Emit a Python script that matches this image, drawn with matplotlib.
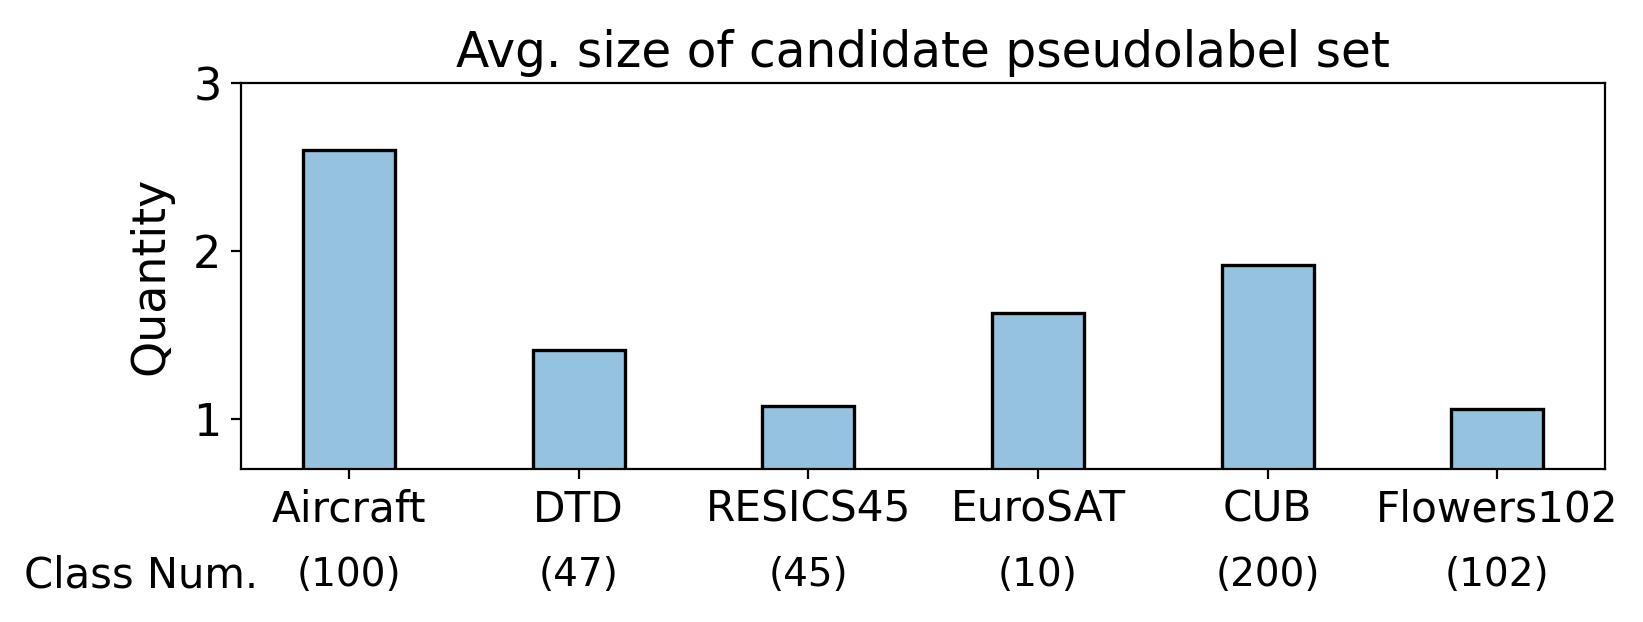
import matplotlib
matplotlib.use("Agg")
import matplotlib.pyplot as plt
import matplotlib.transforms as mtransforms


datasets = ["Aircraft", "DTD", "RESICS45", "EuroSAT", "CUB", "Flowers102"]
class_nums = [100, 47, 45, 10, 200, 102]
avg_size = [2.60, 1.41, 1.08, 1.63, 1.92, 1.06]

BAR_COLOR = "#94c2df"


def main():
    fig, ax = plt.subplots(figsize=(8.215, 3.11), dpi=200)
    fig.subplots_adjust(left=0.1467, right=0.977, bottom=0.2455, top=0.866)

    x = list(range(len(datasets)))
    ax.bar(x, avg_size, width=0.4, color=BAR_COLOR, edgecolor="black", linewidth=1.2)

    ax.set_ylim(0.7, 3)
    ax.set_yticks([1, 2, 3])
    ax.tick_params(axis="y", labelsize=16)
    ax.set_xticks(x)
    ax.set_xticklabels(datasets, fontsize=15.2)
    ax.set_ylabel("Quantity", fontsize=16.5, labelpad=7)
    ax.set_title("Avg. size of candidate pseudolabel set", fontsize=17.5)

    # class counts under the tick labels
    trans = mtransforms.blended_transform_factory(ax.transData, ax.transAxes)
    for xi, n in zip(x, class_nums):
        ax.text(xi, -0.275, f"({n})", transform=trans, ha="center", va="center",
                fontsize=14)
    ax.text(-0.395, -0.275, "Class Num.", transform=trans, ha="right", va="center",
            fontsize=15)

    plt.savefig("out.png", dpi=200)
    plt.close()


if __name__ == "__main__":
    main()
